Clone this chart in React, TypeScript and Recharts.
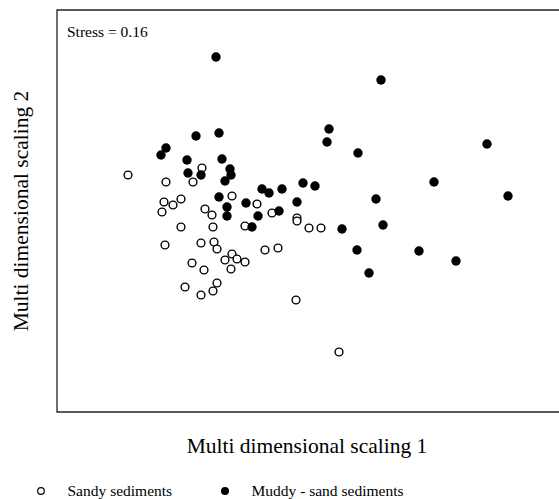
import { ScatterChart, Scatter, XAxis, YAxis, ReferenceArea } from "recharts";

// MDS scores (dimension 1, dimension 2)
const sandy = [
  { x: -1.72, y: 0.36 }, { x: -1.34, y: 0.29 }, { x: -0.98, y: 0.43 }, { x: -1.07, y: 0.29 },
  { x: -0.68, y: 0.15 }, { x: -1.36, y: 0.09 }, { x: -1.27, y: 0.06 }, { x: -1.19, y: 0.12 },
  { x: -1.38, y: -0.01 }, { x: -0.95, y: 0.02 }, { x: -0.88, y: -0.04 }, { x: -1.19, y: -0.16 },
  { x: -0.87, y: -0.16 }, { x: -0.55, y: -0.15 }, { x: -0.43, y: 0.07 }, { x: -0.28, y: -0.02 },
  { x: -0.03, y: -0.07 }, { x: -0.03, y: -0.1 }, { x: 0.09, y: -0.17 }, { x: 0.21, y: -0.17 },
  { x: -1.35, y: -0.34 }, { x: -0.99, y: -0.32 }, { x: -0.86, y: -0.31 }, { x: -0.83, y: -0.38 },
  { x: -0.35, y: -0.39 }, { x: -0.22, y: -0.37 }, { x: -0.68, y: -0.43 }, { x: -0.75, y: -0.49 },
  { x: -0.63, y: -0.48 }, { x: -0.55, y: -0.51 }, { x: -1.08, y: -0.52 }, { x: -0.96, y: -0.59 },
  { x: -0.69, y: -0.58 }, { x: -0.83, y: -0.72 }, { x: -1.15, y: -0.76 }, { x: -0.87, y: -0.8 },
  { x: -0.99, y: -0.84 }, { x: -0.04, y: -0.89 }, { x: 0.39, y: -1.41 },
];

const muddy = [
  { x: -0.84, y: 1.54 }, { x: 0.81, y: 1.31 }, { x: -1.04, y: 0.75 }, { x: -0.81, y: 0.78 },
  { x: 0.29, y: 0.82 }, { x: -1.34, y: 0.63 }, { x: -1.39, y: 0.56 }, { x: 0.27, y: 0.69 },
  { x: -1.13, y: 0.51 }, { x: -0.78, y: 0.52 }, { x: 0.58, y: 0.58 }, { x: 1.87, y: 0.67 },
  { x: -0.7, y: 0.42 }, { x: -0.69, y: 0.36 }, { x: -1.12, y: 0.38 }, { x: -0.99, y: 0.36 },
  { x: -0.75, y: 0.3 }, { x: 1.34, y: 0.29 }, { x: 0.03, y: 0.28 }, { x: 0.15, y: 0.25 },
  { x: -0.38, y: 0.22 }, { x: -0.31, y: 0.18 }, { x: -0.18, y: 0.22 }, { x: 2.08, y: 0.15 },
  { x: -0.81, y: 0.14 }, { x: 0.76, y: 0.12 }, { x: -0.54, y: 0.08 }, { x: -0.03, y: 0.09 },
  { x: -0.73, y: 0.04 }, { x: -0.73, y: -0.05 }, { x: -0.42, y: -0.05 }, { x: -0.21, y: 0.0 },
  { x: -0.48, y: -0.16 }, { x: 0.83, y: -0.14 }, { x: 0.42, y: -0.18 }, { x: 0.57, y: -0.39 },
  { x: 1.19, y: -0.4 }, { x: 1.56, y: -0.5 }, { x: 0.69, y: -0.62 },
];

const X_DOMAIN: [number, number] = [-2.43, 2.67];
const Y_DOMAIN: [number, number] = [-2.01, 2.01];
const STRESS = "Stress = 0.16";
const X_TITLE = "Multi dimensional scaling 1";
const Y_TITLE = "Multi dimensional scaling 2";
const LEGEND = ["Sandy sediments", "Muddy - sand sediments"];

const FONT = '"Liberation Serif", "Times New Roman", serif';

function OpenDot(p: any) {
  if (p.cx == null || p.cy == null) return <g />;
  return <circle cx={p.cx} cy={p.cy} r={3.9} fill="#fff" stroke="#000" strokeWidth={1.4} />;
}

function FilledDot(p: any) {
  if (p.cx == null || p.cy == null) return <g />;
  return <circle cx={p.cx} cy={p.cy} r={4.7} fill="#000" />;
}

function XTitle(props: any) {
  const vb = props.viewBox || {};
  return (
    <text x={vb.x + vb.width / 2 - 5} y={vb.y + 41} textAnchor="middle" fontFamily={FONT} fontSize={21.5} fill="#000">
      {X_TITLE}
    </text>
  );
}

function YTitle(props: any) {
  const vb = props.viewBox || {};
  const cx = 28;
  const cy = vb.y + vb.height / 2;
  return (
    <text x={cx} y={cy} transform={`rotate(-90 ${cx} ${cy})`} textAnchor="middle" fontFamily={FONT} fontSize={21.5} fill="#000">
      {Y_TITLE}
    </text>
  );
}

export default function App() {
  return (
    <div style={{ position: "absolute", left: 0, top: 0, width: 559, height: 499, overflow: "hidden", background: "#fff" }}>
      <ScatterChart width={570} height={499} margin={{ top: 10, right: 3, left: 0, bottom: 0 }}>
        <XAxis
          type="number"
          dataKey="x"
          domain={X_DOMAIN}
          allowDataOverflow
          height={87}
          tick={false}
          tickLine={false}
          axisLine={false}
          label={<XTitle />}
        />
        <YAxis
          type="number"
          dataKey="y"
          domain={Y_DOMAIN}
          allowDataOverflow
          width={57}
          tick={false}
          tickLine={false}
          axisLine={false}
          label={<YTitle />}
        />
        <ReferenceArea
          x1={X_DOMAIN[0]}
          x2={X_DOMAIN[1]}
          y1={Y_DOMAIN[0]}
          y2={Y_DOMAIN[1]}
          fill="none"
          stroke="#222"
          strokeWidth={1.3}
          ifOverflow="visible"
        />
        <Scatter name={LEGEND[0]} data={sandy} shape={<OpenDot />} isAnimationActive={false} />
        <Scatter name={LEGEND[1]} data={muddy} shape={<FilledDot />} isAnimationActive={false} />
      </ScatterChart>
      <svg width={559} height={499} style={{ position: "absolute", left: 0, top: 0, pointerEvents: "none" }}>
        <text x={67} y={37} fontFamily={FONT} fontSize={15.5} fill="#000">{STRESS}</text>
        <circle cx={41} cy={491} r={3.3} fill="#fff" stroke="#000" strokeWidth={1.2} />
        <text x={67.5} y={496} fontFamily={FONT} fontSize={15.5} fill="#000">{LEGEND[0]}</text>
        <circle cx={225} cy={491} r={4} fill="#000" />
        <text x={251.5} y={496} fontFamily={FONT} fontSize={15.5} fill="#000">{LEGEND[1]}</text>
      </svg>
    </div>
  );
}
